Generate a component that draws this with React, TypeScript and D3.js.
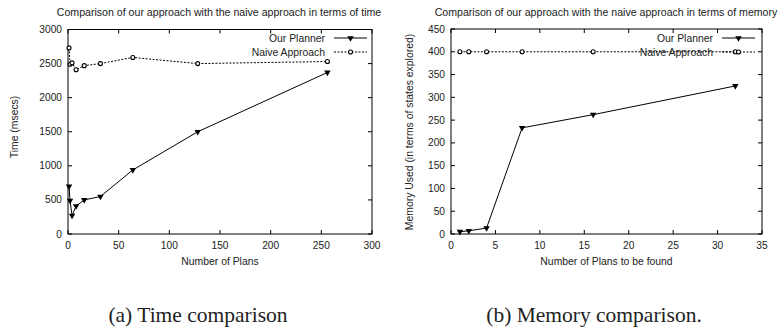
import React, { useEffect, useRef } from "react";
import * as d3 from "d3";

// time chart (a)
const timePlans = [1, 2, 4, 8, 16, 32, 64, 128, 256];
const timeOurs = [700, 490, 270, 410, 500, 550, 940, 1500, 2370];
const timeNaive = [2730, 2490, 2510, 2410, 2470, 2500, 2590, 2500, 2530];
const timeXTicks = [0, 50, 100, 150, 200, 250, 300];
const timeYTicks = [0, 500, 1000, 1500, 2000, 2500, 3000];

// memory chart (b)
const memPlans = [1, 2, 4, 8, 16, 32];
const memOurs = [5, 7, 13, 233, 262, 325];
const memNaive = [400, 400, 400, 400, 400, 400];
const memXTicks = [0, 5, 10, 15, 20, 25, 30, 35];
const memYTicks = [0, 50, 100, 150, 200, 250, 300, 350, 400, 450];

const FONT = "'Liberation Sans', Arial, sans-serif";

function drawPanel(svg, cfg) {
  const g = svg.append("g");
  const x = d3.scaleLinear().domain(cfg.xDomain).range(cfg.xRange);
  const y = d3.scaleLinear().domain(cfg.yDomain).range(cfg.yRange);
  const [x0, x1] = cfg.xRange;
  const [y0, y1] = cfg.yRange;
  const tk = 4;

  g.append("rect")
    .attr("x", x0)
    .attr("y", y1)
    .attr("width", x1 - x0)
    .attr("height", y0 - y1)
    .attr("fill", "none")
    .attr("stroke", "#000")
    .attr("stroke-width", 1);

  // ticks, mirrored inward like gnuplot
  cfg.xTicks.forEach((t) => {
    const px = x(t);
    g.append("line").attr("x1", px).attr("x2", px).attr("y1", y0).attr("y2", y0 - tk).attr("stroke", "#000");
    g.append("line").attr("x1", px).attr("x2", px).attr("y1", y1).attr("y2", y1 + tk).attr("stroke", "#000");
    g.append("text")
      .attr("x", px)
      .attr("y", y0 + 15)
      .attr("text-anchor", "middle")
      .attr("font-size", 10.2)
      .attr("font-family", FONT)
      .attr("fill", "#222")
      .text(t);
  });
  cfg.yTicks.forEach((t) => {
    const py = y(t);
    g.append("line").attr("x1", x0).attr("x2", x0 + tk).attr("y1", py).attr("y2", py).attr("stroke", "#000");
    g.append("line").attr("x1", x1).attr("x2", x1 - tk).attr("y1", py).attr("y2", py).attr("stroke", "#000");
    g.append("text")
      .attr("x", x0 - 6)
      .attr("y", py + 3.5)
      .attr("text-anchor", "end")
      .attr("font-size", 10.2)
      .attr("font-family", FONT)
      .attr("fill", "#222")
      .text(t);
  });

  const cx = (x0 + x1) / 2;
  g.append("text")
    .attr("x", cfg.titleX)
    .attr("y", 16)
    .attr("text-anchor", "middle")
    .attr("font-size", 10.6)
    .attr("font-family", FONT)
    .attr("fill", "#222")
    .text(cfg.title);
  g.append("text")
    .attr("x", cx)
    .attr("y", 265)
    .attr("text-anchor", "middle")
    .attr("font-size", 10.4)
    .attr("font-family", FONT)
    .attr("fill", "#222")
    .text(cfg.xLabel);
  g.append("text")
    .attr("transform", `translate(${cfg.yLabelX}, ${cfg.yLabelY}) rotate(-90)`)
    .attr("text-anchor", "middle")
    .attr("font-size", 10.4)
    .attr("font-family", FONT)
    .attr("fill", "#222")
    .text(cfg.yLabel);

  const line = d3
    .line()
    .x((d) => x(d[0]))
    .y((d) => y(d[1]));

  const ours = d3.zip(cfg.xs, cfg.ours);
  const naive = d3.zip(cfg.xs, cfg.naive);
  const tri = d3.symbol().type(d3.symbolTriangle).size(18);

  g.append("path")
    .datum(naive)
    .attr("d", line)
    .attr("fill", "none")
    .attr("stroke", "#000")
    .attr("stroke-width", 1)
    .attr("stroke-dasharray", "2,1.5");
  g.selectAll(".naive-pt")
    .data(naive)
    .join("circle")
    .attr("class", "naive-pt")
    .attr("cx", (d) => x(d[0]))
    .attr("cy", (d) => y(d[1]))
    .attr("r", 2)
    .attr("fill", "#fff")
    .attr("stroke", "#000")
    .attr("stroke-width", 1.1);

  g.append("path")
    .datum(ours)
    .attr("d", line)
    .attr("fill", "none")
    .attr("stroke", "#000")
    .attr("stroke-width", 1);
  g.selectAll(".ours-pt")
    .data(ours)
    .join("path")
    .attr("class", "ours-pt")
    .attr("d", tri)
    .attr("transform", (d) => `translate(${x(d[0])}, ${y(d[1])}) rotate(180)`)
    .attr("fill", "#000");

  // legend
  const lx = cfg.legendX;
  const rows = [
    { label: "Our Planner", ly: 38, dash: null },
    { label: "Naive Approach", ly: 52, dash: "2,1.5" },
  ];
  rows.forEach((r, i) => {
    g.append("text")
      .attr("x", lx)
      .attr("y", r.ly + 3.5)
      .attr("text-anchor", "end")
      .attr("font-size", 10.4)
      .attr("font-family", FONT)
      .attr("fill", "#222")
      .text(r.label);
    g.append("line")
      .attr("x1", lx + 9)
      .attr("x2", lx + 42)
      .attr("y1", r.ly)
      .attr("y2", r.ly)
      .attr("stroke", "#000")
      .attr("stroke-dasharray", r.dash);
    if (i === 0) {
      g.append("path")
        .attr("d", tri)
        .attr("transform", `translate(${lx + 25.5}, ${r.ly}) rotate(180)`)
        .attr("fill", "#000");
    } else {
      g.append("circle")
        .attr("cx", lx + 25.5)
        .attr("cy", r.ly)
        .attr("r", 2)
        .attr("fill", "#fff")
        .attr("stroke", "#000")
        .attr("stroke-width", 1.1);
    }
  });

  g.append("text")
    .attr("x", cfg.captionX)
    .attr("y", 322)
    .attr("text-anchor", "middle")
    .attr("font-size", 21.5)
    .attr("font-family", "'Liberation Serif', 'Times New Roman', serif")
    .attr("fill", "#222")
    .text(cfg.caption);
}

export default function App() {
  const ref = useRef(null);

  useEffect(() => {
    const svg = d3.select(ref.current);
    svg.selectAll("*").remove();

    drawPanel(svg, {
      xDomain: [0, 300],
      yDomain: [0, 3000],
      xRange: [68, 372],
      yRange: [234, 29.5],
      xTicks: timeXTicks,
      yTicks: timeYTicks,
      xs: timePlans,
      ours: timeOurs,
      naive: timeNaive,
      title: "Comparison of our approach with the naive approach in terms of time",
      titleX: 219,
      xLabel: "Number of Plans",
      yLabel: "Time (msecs)",
      yLabelX: 18,
      yLabelY: 127,
      legendX: 325,
      caption: "(a) Time comparison",
      captionX: 198,
    });

    drawPanel(svg, {
      xDomain: [0, 35],
      yDomain: [0, 450],
      xRange: [451, 762],
      yRange: [234, 29],
      xTicks: memXTicks,
      yTicks: memYTicks,
      xs: memPlans,
      ours: memOurs,
      naive: memNaive,
      title: "Comparison of our approach with the naive approach in terms of memory",
      titleX: 606,
      xLabel: "Number of Plans to be found",
      yLabel: "Memory Used (in terms of states explored)",
      yLabelX: 413,
      yLabelY: 132,
      legendX: 713,
      caption: "(b) Memory comparison.",
      captionX: 594,
    });
  }, []);

  return (
    <svg
      ref={ref}
      width={778}
      height={333}
      style={{ position: "absolute", left: 0, top: 0, background: "#fff" }}
    />
  );
}
